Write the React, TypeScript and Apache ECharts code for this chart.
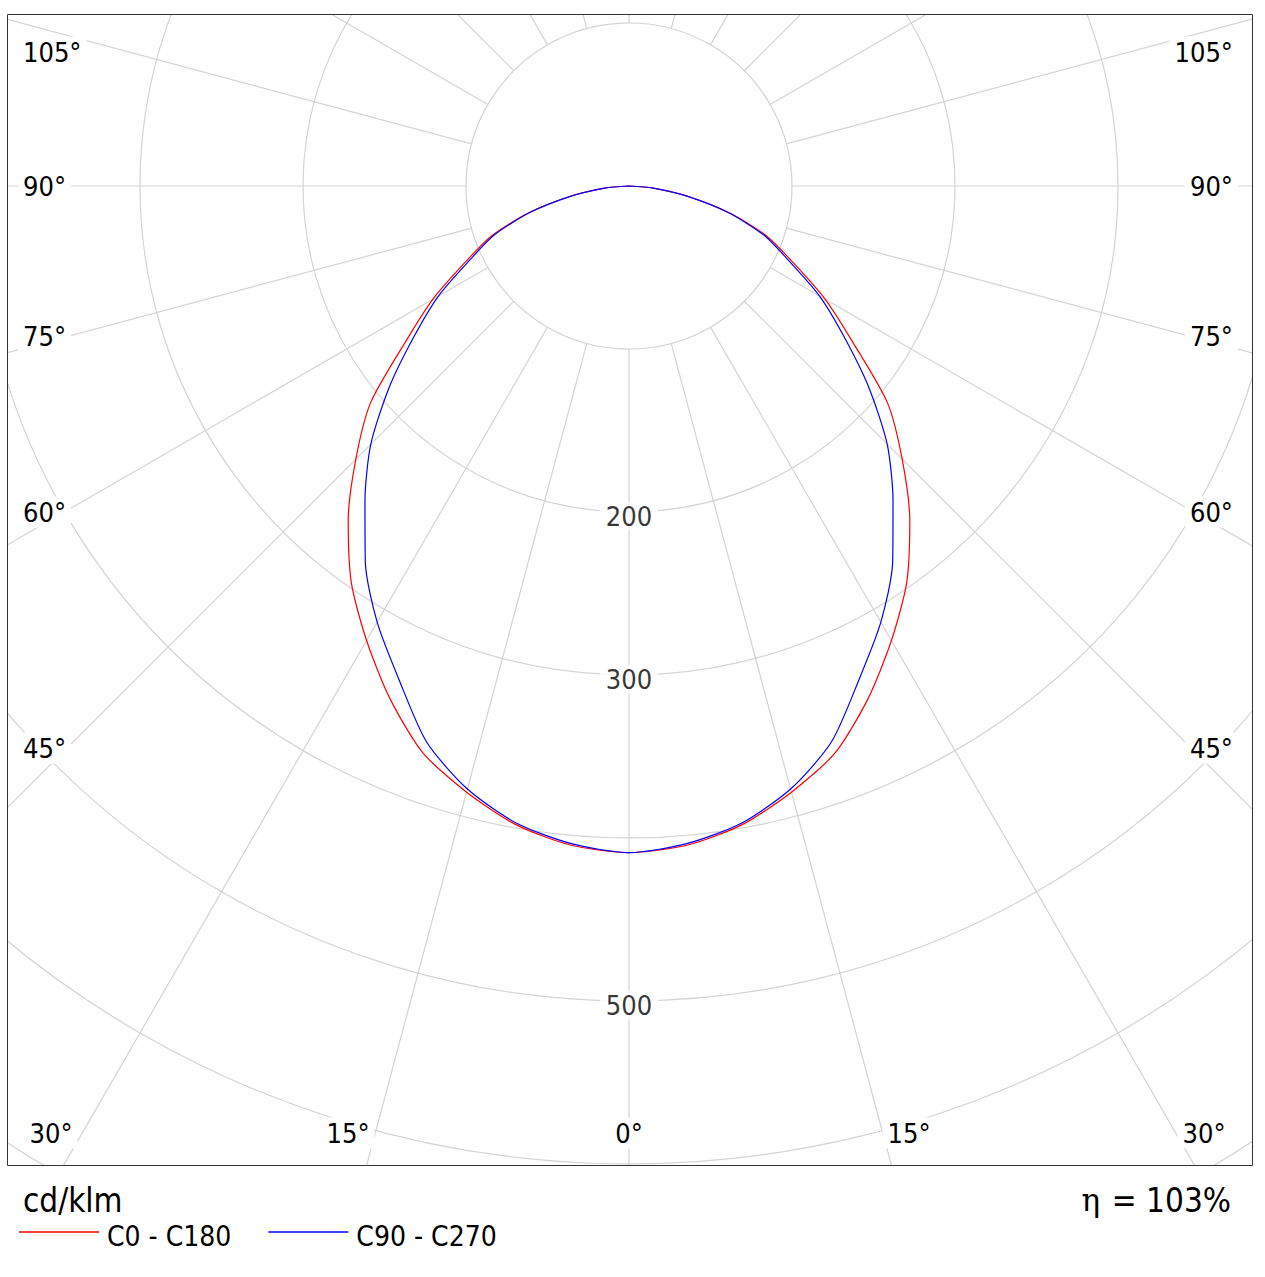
import React, { useEffect, useRef } from "react";
import * as echarts from "echarts";

// ---- data ----
const GAMMA = [0, 5, 10, 15, 20, 25, 30, 35, 40, 45, 50, 55, 60, 65, 70, 75, 80, 85, 90];
const C0_C180 = [409, 406, 398, 385, 370, 347, 322, 297, 268, 237, 207, 168, 139, 111, 90, 64, 37, 15, 0];
const C90_C270 = [409, 405, 397, 383, 363, 334, 309, 282, 252, 224, 192, 161, 135, 108, 88, 63, 36, 15, 0];
const RING_TICKS = [200, 300, 500];
const SIDE_ANGLE_TICKS = [105, 90, 75, 60, 45];
const BOTTOM_ANGLE_TICKS = [30, 15, 0, 15, 30];
const SERIES_NAMES = ["C0 - C180", "C90 - C270"];
const UNIT = "cd/klm";
const ETA = "η";
const EFFICIENCY = "= 103%";

const FONT = '"DejaVu Sans Condensed", "DejaVu Sans", sans-serif';
const RED = "#ff0000";
const BLUE = "#0000ff";
const GRID = "#d4d4d4";

function halfPlanePoints(values: number[]) {
  const right = GAMMA.map((g, i) => [values[i], 360 - g]).reverse();
  const left = GAMMA.map((g, i) => [values[i], g]);
  return [...right, ...left];
}

export default function App() {
  const ref = useRef<HTMLDivElement>(null);

  useEffect(() => {
    if (!ref.current) return;
    const chart = echarts.init(ref.current, undefined, { renderer: "svg" });

    const W = 1265;
    const H = 1277;
    const CX = 629;
    const CY = 186;
    const PX = 1.63;
    const RMAX = 720;
    const frame = { x: 7.5, y: 14.5, w: 1245, h: 1151 };

    const sideY = [52, 186, 336, 512, 748];
    const bottomX = [51, 348, 629, 909, 1204];
    const bottomY = 1133;

    const labelStyle = (text: string, align: string) => ({
      text,
      font: `27px ${FONT}`,
      fill: "#000",
      align,
      verticalAlign: "middle",
      backgroundColor: "#fff",
      padding: [2, 5],
    });

    const angleLabels: any[] = [];
    SIDE_ANGLE_TICKS.forEach((a, i) => {
      angleLabels.push({ type: "text", x: 18, y: sideY[i], z: 110, style: labelStyle(a + "°", "left") });
      angleLabels.push({ type: "text", x: 1238, y: sideY[i], z: 110, style: labelStyle(a + "°", "right") });
    });
    BOTTOM_ANGLE_TICKS.forEach((a, i) => {
      angleLabels.push({ type: "text", x: bottomX[i], y: bottomY, z: 110, style: labelStyle(a + "°", "center") });
    });

    const hidden = {
      axisLine: { show: false },
      axisTick: { show: false },
      axisLabel: { show: false },
    };

    chart.setOption({
      animation: false,
      backgroundColor: "#fff",
      polar: [
        { center: [CX, CY], radius: [PX * 100, PX * RMAX] },
        { center: [CX, CY], radius: [0, PX * RMAX] },
      ],
      angleAxis: [
        {
          polarIndex: 0,
          type: "value",
          min: 0,
          max: 360,
          interval: 15,
          startAngle: 270,
          clockwise: true,
          ...hidden,
          splitLine: { show: true, lineStyle: { color: GRID, width: 1.2 } },
        },
        {
          polarIndex: 1,
          type: "value",
          min: 0,
          max: 360,
          startAngle: 270,
          clockwise: true,
          ...hidden,
          splitLine: { show: false },
        },
      ],
      radiusAxis: [
        {
          polarIndex: 0,
          type: "value",
          min: 100,
          max: RMAX,
          interval: 100,
          ...hidden,
          splitLine: { show: true, lineStyle: { color: GRID, width: 1.2 } },
        },
        {
          polarIndex: 1,
          type: "value",
          min: 0,
          max: RMAX,
          ...hidden,
          splitLine: { show: false },
        },
      ],
      legend: {
        data: SERIES_NAMES,
        left: 19,
        top: 1214,
        orient: "horizontal",
        icon: "rect",
        itemWidth: 80,
        itemHeight: 1.5,
        itemGap: 37,
        padding: 0,
        selectedMode: false,
        z: 120,
        formatter: "{a|{name}}",
        textStyle: {
          fontSize: 28,
          fontFamily: FONT,
          color: "#000",
          rich: {
            a: {
              fontSize: 28,
              fontFamily: FONT,
              color: "#000",
              lineHeight: 30,
              padding: [8, 0, 0, 3],
            },
          },
        },
      },
      series: [
        {
          type: "line",
          name: SERIES_NAMES[0],
          coordinateSystem: "polar",
          polarIndex: 1,
          data: halfPlanePoints(C0_C180),
          symbol: "none",
          smooth: 0.25,
          lineStyle: { color: RED, width: 1.2 },
          itemStyle: { color: RED },
          z: 3,
        },
        {
          type: "line",
          name: SERIES_NAMES[1],
          coordinateSystem: "polar",
          polarIndex: 1,
          data: halfPlanePoints(C90_C270),
          symbol: "none",
          smooth: 0.25,
          lineStyle: { color: BLUE, width: 1.2 },
          itemStyle: { color: BLUE },
          z: 4,
        },
        {
          type: "scatter",
          coordinateSystem: "polar",
          polarIndex: 1,
          data: RING_TICKS.map((v) => [v, 0]),
          symbolSize: 1,
          itemStyle: { color: "rgba(0,0,0,0)" },
          silent: true,
          z: 5,
          label: {
            show: true,
            position: "inside",
            formatter: (p: any) => String(p.value[0]),
            fontSize: 27,
            fontFamily: FONT,
            color: "#000",
            backgroundColor: "#fff",
            padding: [1, 6],
            offset: [0, 4],
          },
        },
      ],
      graphic: [
        { type: "rect", z: 100, silent: true, shape: { x: 0, y: 0, width: W, height: frame.y }, style: { fill: "#fff" } },
        { type: "rect", z: 100, silent: true, shape: { x: 0, y: 0, width: frame.x, height: H }, style: { fill: "#fff" } },
        { type: "rect", z: 100, silent: true, shape: { x: frame.x + frame.w, y: 0, width: W, height: H }, style: { fill: "#fff" } },
        { type: "rect", z: 100, silent: true, shape: { x: 0, y: frame.y + frame.h, width: W, height: H }, style: { fill: "#fff" } },
        {
          type: "rect",
          z: 105,
          silent: true,
          shape: { x: frame.x, y: frame.y, width: frame.w, height: frame.h },
          style: { fill: "none", stroke: "#333", lineWidth: 1 },
        },
        ...angleLabels,
        {
          type: "text",
          z: 120,
          x: 23,
          y: 1200,
          style: { text: UNIT, font: `33px ${FONT}`, fill: "#000", align: "left", verticalAlign: "middle" },
        },
        {
          type: "text",
          z: 120,
          x: 1231,
          y: 1200,
          style: { text: EFFICIENCY, font: `33px ${FONT}`, fill: "#000", align: "right", verticalAlign: "middle" },
        },
        {
          type: "text",
          z: 120,
          x: 1100,
          y: 1200,
          style: { text: ETA, font: `31px "DejaVu Serif", serif`, fill: "#000", align: "right", verticalAlign: "middle" },
        },
      ],
    });

    return () => chart.dispose();
  }, []);

  return (
    <div
      ref={ref}
      style={{ position: "absolute", left: 0, top: 0, width: 1265, height: 1277, background: "#fff" }}
    />
  );
}
